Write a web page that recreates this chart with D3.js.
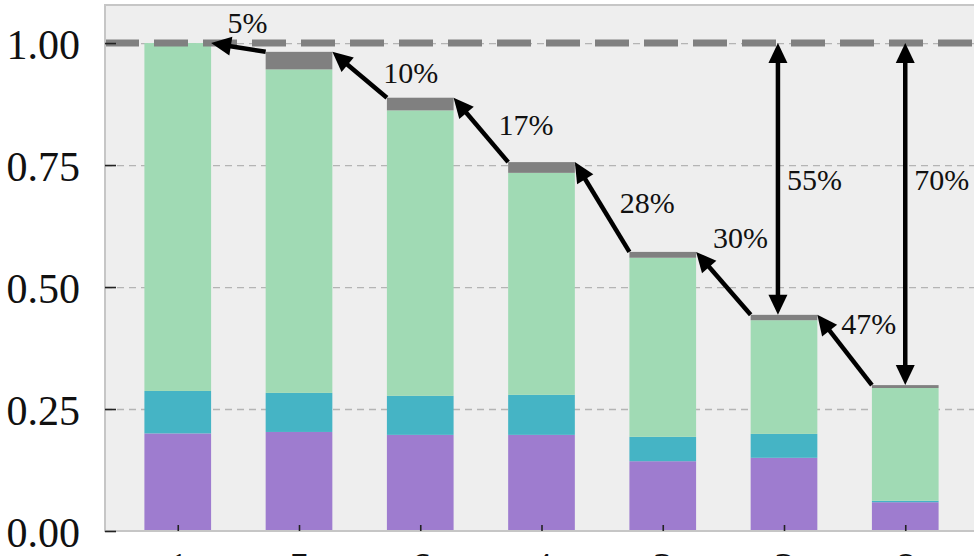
<!DOCTYPE html>
<html><head><meta charset="utf-8">
<script src="https://cdn.jsdelivr.net/npm/d3@7"></script>
<style>html,body{margin:0;padding:0;background:#fff;}svg{display:block;}</style>
</head><body>
<svg id="chart" width="974" height="556"></svg>
<script>
// ---- data ----
const categories = ["1", "5", "6", "4", "2", "3", "8"];
const purpleVals = [0.200, 0.203, 0.197, 0.197, 0.143, 0.150, 0.059];
const tealVals   = [0.087, 0.080, 0.080, 0.082, 0.050, 0.049, 0.003];
const greenVals  = [0.713, 0.663, 0.585, 0.455, 0.367, 0.233, 0.231];
const greyVals   = [0.000, 0.036, 0.026, 0.022, 0.012, 0.011, 0.006];
const stepLabels = ["5%", "10%", "17%", "28%", "30%", "47%"];
const spanBars   = [5, 6];
const spanLabels = ["55%", "70%"];
const yTicks     = [0.00, 0.25, 0.50, 0.75, 1.00];
const reference  = 1.0;

// ---- layout ----
const W = 974, H = 556;
const L = 105, R = 978, T = 5, B = 531;
const barW = 0.55;
const colors = {purple: "#9e7ccf", teal: "#45b4c5", green: "#a0dab4", grey: "#808080"};
const serif = "'Liberation Serif','Times New Roman',serif";

const svg = d3.select("#chart");
const x = d3.scaleLinear().domain([-0.6, 6.6]).range([L, R]);
const y = d3.scaleLinear().domain([0, 1.078]).range([B, T]);

// background
svg.append("rect").attr("x", L).attr("y", T).attr("width", R - L).attr("height", B - T)
  .attr("fill", "#eeeeee");

// grid
const grid = d3.axisLeft(y).tickValues(yTicks.slice(1)).tickSize(-(R - L)).tickFormat("");
svg.append("g").attr("transform", `translate(${L},0)`).call(grid)
  .call(g => g.select(".domain").remove())
  .call(g => g.selectAll("line").attr("stroke", "#b4b4b4").attr("stroke-width", 1.3)
    .attr("stroke-dasharray", "7,5"));

// stacked bars
const series = [
  {key: "purple", vals: purpleVals},
  {key: "teal", vals: tealVals},
  {key: "green", vals: greenVals},
  {key: "grey", vals: greyVals}
];
const rows = categories.map((c, i) => ({i, purple: purpleVals[i], teal: tealVals[i], green: greenVals[i], grey: greyVals[i]}));
const stack = d3.stack().keys(series.map(s => s.key))(rows);
const totals = rows.map(r => r.purple + r.teal + r.green + r.grey);

svg.append("g").selectAll("g").data(stack).join("g")
  .attr("fill", d => colors[d.key])
  .selectAll("rect").data(d => d).join("rect")
  .attr("x", d => x(d.data.i - barW / 2))
  .attr("width", x(barW) - x(0))
  .attr("y", d => y(d[1]))
  .attr("height", d => Math.max(0, y(d[0]) - y(d[1])));

// reference dashed line
svg.append("line").attr("x1", L).attr("x2", R).attr("y1", y(reference)).attr("y2", y(reference))
  .attr("stroke", "#808080").attr("stroke-width", 7).attr("stroke-dasharray", "34,15");

// arrows
function arrow(x1, y1, x2, y2, both) {
  const g = svg.append("g");
  const hl = 20, hw = 9.5;
  const dx = x2 - x1, dy = y2 - y1, len = Math.hypot(dx, dy);
  const ux = dx / len, uy = dy / len;
  const sx = both ? x1 + ux * (hl - 2) : x1, sy = both ? y1 + uy * (hl - 2) : y1;
  g.append("line").attr("x1", sx).attr("y1", sy)
    .attr("x2", x2 - ux * (hl - 2)).attr("y2", y2 - uy * (hl - 2))
    .attr("stroke", "#000").attr("stroke-width", 4.5);
  const head = (tx, ty, vx, vy) => {
    const bx = tx - vx * hl, by = ty - vy * hl;
    g.append("path").attr("d",
      `M${tx},${ty}L${bx - vy * hw},${by + vx * hw}L${bx + vy * hw},${by - vx * hw}Z`)
      .attr("fill", "#000");
  };
  head(x2, y2, ux, uy);
  if (both) head(x1, y1, -ux, -uy);
}

const stepOffsets = [[9, -14], [51, 8], [45, 5], [45, 5.5], [17, -35], [24, -16]];
stepLabels.forEach((lab, k) => {
  const tipX = x(k + barW / 2), tipY = y(totals[k]);
  const tailX = x(k + 1 - barW / 2), tailY = y(totals[k + 1]);
  arrow(tailX, tailY, tipX, tipY, false);
  const mx = (tipX + tailX) / 2, my = (tipY + tailY) / 2;
  svg.append("text").attr("x", mx + stepOffsets[k][0]).attr("y", my + stepOffsets[k][1])
    .attr("text-anchor", "middle").attr("font-family", serif).attr("font-size", 30)
    .attr("fill", "#111").text(lab);
});

const spanShift = [-0.05, 0];
spanBars.forEach((b, k) => {
  const ax = x(b + spanShift[k]);
  arrow(ax, y(reference), ax, y(totals[b]), true);
  svg.append("text").attr("x", ax + 9).attr("y", 190)
    .attr("font-family", serif).attr("font-size", 30).attr("fill", "#111").text(spanLabels[k]);
});

// frame
svg.append("rect").attr("x", L).attr("y", T).attr("width", R - L).attr("height", B - T)
  .attr("fill", "none").attr("stroke", "#c6c6c6").attr("stroke-width", 2);

// y axis
const yAxis = d3.axisLeft(y).tickValues(yTicks).tickFormat(d3.format(".2f")).tickSize(-11).tickPadding(25);
svg.append("g").attr("transform", `translate(${L},0)`).call(yAxis)
  .call(g => g.select(".domain").remove())
  .call(g => g.selectAll("line").attr("stroke", "#222").attr("stroke-width", 1.6))
  .call(g => g.selectAll("text").attr("font-family", serif).attr("font-size", 42)
    .attr("fill", "#111").attr("dy", "0.36em"));

// x axis
const xAxis = d3.axisBottom(x).tickValues(d3.range(categories.length))
  .tickFormat(i => categories[i]).tickSize(-6).tickPadding(21);
svg.append("g").attr("transform", `translate(0,${B})`).call(xAxis)
  .call(g => g.select(".domain").remove())
  .call(g => g.selectAll("line").attr("stroke", "#222").attr("stroke-width", 1.6))
  .call(g => g.selectAll("text").attr("font-family", serif).attr("font-size", 42).attr("fill", "#111"));
</script>
</body></html>
